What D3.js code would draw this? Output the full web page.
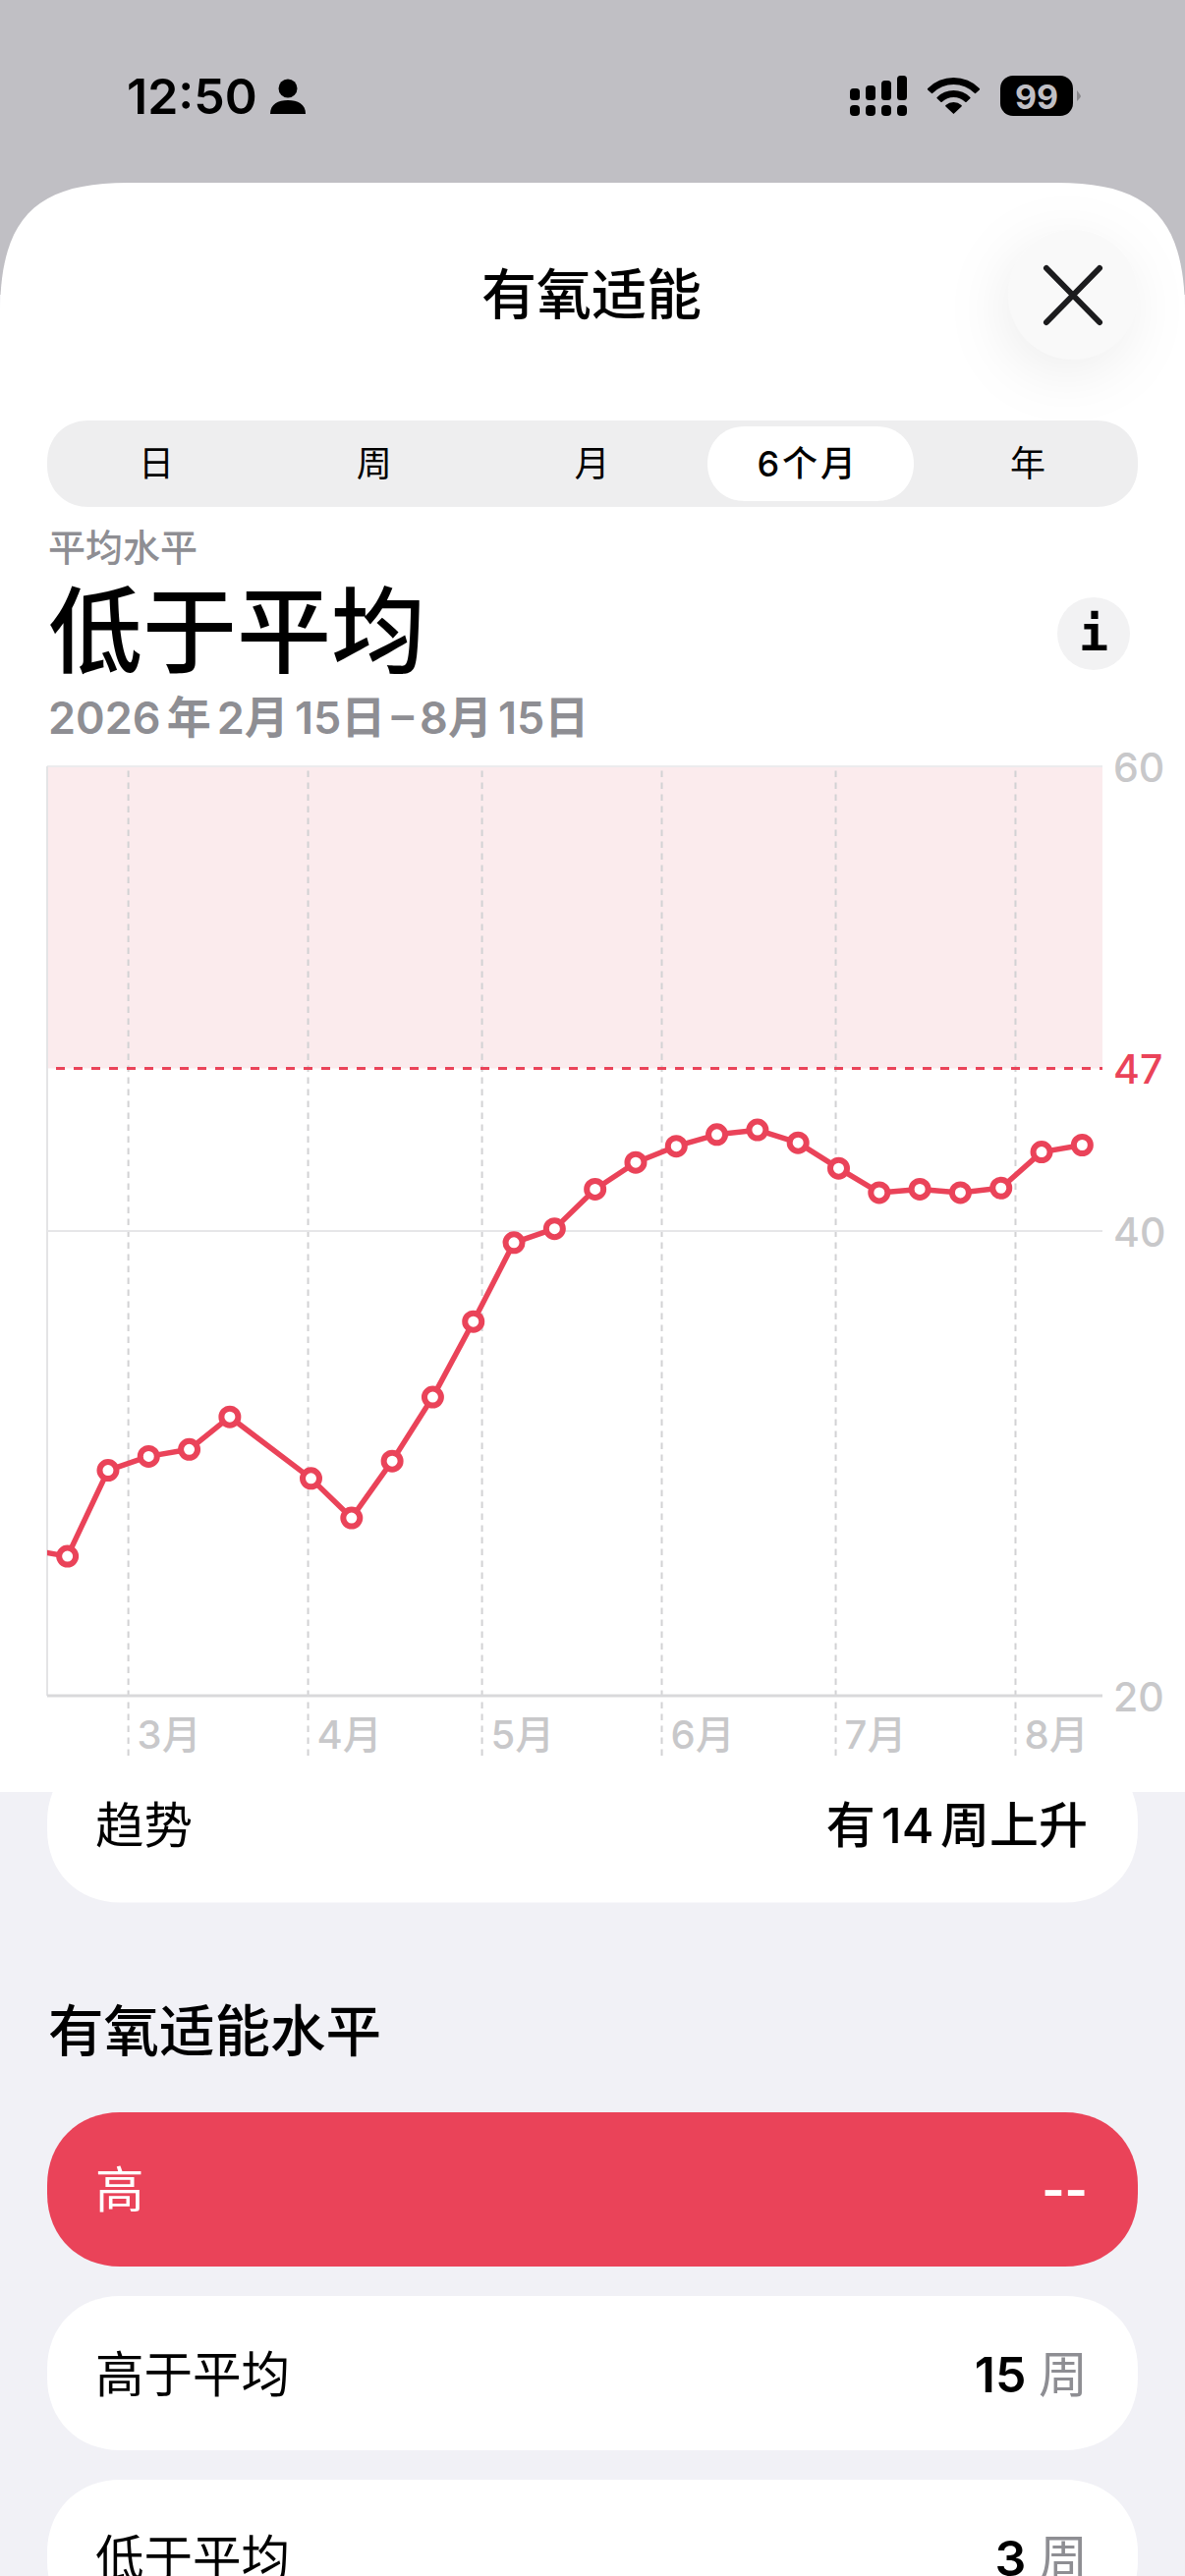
<!DOCTYPE html>
<html>
<head>
<meta charset="utf-8">
<script src="https://cdn.jsdelivr.net/npm/d3@7"></script>
<style>
  html, body { margin: 0; padding: 0; background: #f1f1f6; }
  svg { display: block; }
  text { font-family: Inter, "Noto Sans CJK SC", sans-serif; }
</style>
</head>
<body>
<script>
// chart values
const weekDates = ["2026-02-11","2026-02-18","2026-02-25","2026-03-04","2026-03-11","2026-03-18",
  "2026-04-01","2026-04-08","2026-04-15","2026-04-22","2026-04-29","2026-05-06","2026-05-13",
  "2026-05-20","2026-05-27","2026-06-03","2026-06-10","2026-06-17","2026-06-24","2026-07-01",
  "2026-07-08","2026-07-15","2026-07-22","2026-07-29","2026-08-05","2026-08-12"];
const weekValues = [26.3,26.0,29.7,30.3,30.6,32.0,
  29.35,27.65,30.1,32.85,36.1,39.5,40.1,
  41.8,42.95,43.65,44.15,44.35,43.8,42.7,
  41.65,41.8,41.65,41.85,43.4,43.7];
const yTicks = [20,40,47,60];
const yGridLines = [40,20];
const threshold = 47;
const monthTicks = ["2026-03-01","2026-04-01","2026-05-01","2026-06-01","2026-07-01","2026-08-01"];
const periods = ["日","周","月","6个月","年"];
const selectedPeriod = "6个月";
const levelNames = ["高","高于平均","低于平均"];
const levelWeeks = ["--","15","3"];

const W = 1206, H = 2622;
const red = "#ea4359", gray = "#8e8e93", light = "#c8c8ca";

const parse = d3.utcParse("%Y-%m-%d");
const noon = s => d3.utcHour.offset(parse(s), 12);

const svg = d3.select("body").append("svg")
  .attr("width", W).attr("height", H).attr("viewBox", [0, 0, W, H]);

// rounded box with the soft corners ios uses
function squircle(x, y, w, h, r) {
  const p = d3.path(), k = r * 0.42;
  p.moveTo(x + r, y);
  p.lineTo(x + w - r, y);
  p.bezierCurveTo(x + w - k, y, x + w, y + k, x + w, y + r);
  p.lineTo(x + w, y + h - r);
  p.bezierCurveTo(x + w, y + h - k, x + w - k, y + h, x + w - r, y + h);
  p.lineTo(x + r, y + h);
  p.bezierCurveTo(x + k, y + h, x, y + h - k, x, y + h - r);
  p.lineTo(x, y + r);
  p.bezierCurveTo(x, y + k, x + k, y, x + r, y);
  p.closePath();
  return p.toString();
}

function label(g, s, x, y, size, weight, fill, anchor) {
  return g.append("text").text(s)
    .attr("x", x).attr("y", y)
    .attr("dominant-baseline", "central")
    .attr("font-size", size).attr("font-weight", weight)
    .attr("fill", fill).attr("text-anchor", anchor || "start");
}

// page behind the sheet
svg.append("rect").attr("width", W).attr("height", H).attr("fill", "#f1f1f6");
svg.append("rect").attr("width", W).attr("height", 300).attr("fill", "#c0bfc4");

// status bar
const bar = svg.append("g");
label(bar, "12:50", 129, 98, 50, 600, "#000");
bar.append("circle").attr("cx", 293).attr("cy", 90).attr("r", 9.5).attr("fill", "#000");
bar.append("path").attr("fill", "#000")
  .attr("d", "M275 116 C275 106 283 102 293 102 C303 102 311 106 311 116 Z");

const signalX = [865, 881, 897, 913];
const signalTop = [90, 87, 82, 77];
signalX.forEach((x, i) => {
  bar.append("rect").attr("x", x).attr("y", signalTop[i]).attr("width", 10)
    .attr("height", 102 - signalTop[i]).attr("rx", 3.5).attr("fill", "#000");
  bar.append("rect").attr("x", x).attr("y", 107).attr("width", 10)
    .attr("height", 11).attr("rx", 4).attr("fill", "#000");
});
const wifiArc = d3.arc().startAngle(-0.82).endAngle(0.82).cornerRadius(1);
[[0, 12], [17, 24], [30, 37]].forEach(r => {
  bar.append("path").attr("transform", "translate(970.5,116)").attr("fill", "#000")
    .attr("d", wifiArc({ innerRadius: r[0], outerRadius: r[1] }));
});
bar.append("rect").attr("x", 1018).attr("y", 77).attr("width", 74).attr("height", 41)
  .attr("rx", 13).attr("fill", "#000");
bar.append("path").attr("d", "M1096 92 Q1100 97 1100 98 Q1100 99 1096 103 Z").attr("fill", "#8a898d");
label(bar, "99", 1055, 98, 34, 700, "#c0bfc4", "middle");

// card that slides under the sheet
const trendCard = svg.append("g");
trendCard.append("path").attr("d", squircle(48, 1780, 1110, 156.5, 74)).attr("fill", "#fff");

// the white sheet, only top corners are round
const sheet = d3.path();
sheet.moveTo(0, 1824);
sheet.lineTo(0, 320);
sheet.bezierCurveTo(0, 222, 36, 186, 130, 186);
sheet.lineTo(W - 130, 186);
sheet.bezierCurveTo(W - 36, 186, W, 222, W, 320);
sheet.lineTo(W, 1824);
sheet.closePath();
svg.append("path").attr("d", sheet.toString()).attr("fill", "#fff");

// header
label(svg, "有氧适能", 602, 300, 56, 500, "#000", "middle");
svg.append("circle").attr("cx", 1092).attr("cy", 300).attr("r", 66).attr("fill", "#f9f9f9")
  .style("filter", "drop-shadow(-6px 14px 30px rgba(0,0,0,0.07))");
svg.append("path").attr("d", "M1065 273 L1119 328 M1119 273 L1065 328")
  .attr("stroke", "#1c1c1e").attr("stroke-width", 6).attr("stroke-linecap", "round");

// period switch
svg.append("path").attr("d", squircle(48, 428, 1110, 88, 42)).attr("fill", "#eeeeef");
svg.append("path").attr("d", squircle(720, 434, 210, 76, 38)).attr("fill", "#fff");
const periodX = d3.scalePoint().domain(periods).range([159, 1046]);
periods.forEach(p => {
  const sel = p === selectedPeriod;
  label(svg, p, periodX(p) - (sel ? 2 : 0), 472, 36, sel ? 500 : 400, "#000", "middle")
    .style("letter-spacing", sel ? "3px" : null);
});

// headline
label(svg, "平均水平", 49, 557, 38, 500, gray);
label(svg, "低于平均", 49, 642, 96, 500, "#000");
label(svg, "2026 年 2月 15日 – 8月 15日", 49, 730, 45, 600, gray).style("word-spacing", "-5.2px");
svg.append("circle").attr("cx", 1113).attr("cy", 645).attr("r", 37).attr("fill", "#f2f2f3");
label(svg, "i", 1113, 645, 50, 700, "#000", "middle").style("font-family", "'DejaVu Sans Mono'");

// chart
const margin = { top: 780, right: 84, bottom: 896, left: 48 };
const x = d3.scaleUtc()
  .domain([parse("2026-02-15"), parse("2026-08-16")])
  .range([margin.left, W - margin.right]);
const y = d3.scaleLinear()
  .domain([20, 60])
  .range([H - margin.bottom, margin.top]);

const chart = svg.append("g");

chart.append("defs").append("clipPath").attr("id", "plot").append("rect")
  .attr("x", x.range()[0]).attr("y", y(60))
  .attr("width", x.range()[1] - x.range()[0]).attr("height", y(20) - y(60));

// zone above the threshold
chart.append("rect")
  .attr("x", x.range()[0]).attr("y", y(60))
  .attr("width", x.range()[1] - x.range()[0]).attr("height", y(threshold) - y(60))
  .attr("fill", "#fbebed");

chart.append("line").attr("x1", x.range()[0]).attr("x2", x.range()[1])
  .attr("y1", y(60)).attr("y2", y(60)).attr("stroke", "#ececee").attr("stroke-width", 2);
chart.append("line").attr("x1", x.range()[0]).attr("x2", x.range()[0])
  .attr("y1", y(60)).attr("y2", y(20)).attr("stroke", "#e4e4e6").attr("stroke-width", 2);

// month axis, ticks run up through the plot as dashed guides
const xAxis = chart.append("g")
  .attr("transform", "translate(-0.5," + (y(20) + 61) + ")")
  .call(d3.axisBottom(x)
    .tickValues(monthTicks.map(parse))
    .tickSize(-(y(20) + 61 - y(60)))
    .tickPadding(0)
    .tickFormat(d => (d.getUTCMonth() + 1) + "月"));
xAxis.select(".domain").remove();
xAxis.selectAll(".tick line")
  .attr("stroke", "#d2d2d4").attr("stroke-width", 2).attr("stroke-dasharray", "6.5 5.5");
xAxis.selectAll(".tick text")
  .attr("x", 9).attr("y", -22)
  .attr("dy", 0)
  .attr("dominant-baseline", "central")
  .attr("text-anchor", "start")
  .attr("font-size", 40).attr("font-weight", 500)
  .attr("font-family", "Inter, 'Noto Sans CJK SC', sans-serif")
  .attr("fill", light);

yGridLines.forEach(v => {
  chart.append("line").attr("x1", x.range()[0]).attr("x2", x.range()[1])
    .attr("y1", y(v)).attr("y2", y(v))
    .attr("stroke", v === 20 ? "#d9d9db" : "#e6e6e8").attr("stroke-width", v === 20 ? 3 : 2);
});

// threshold
chart.append("line").attr("x1", x.range()[0] + 9).attr("x2", x.range()[1])
  .attr("y1", y(threshold)).attr("y2", y(threshold))
  .attr("stroke", red).attr("stroke-width", 3).attr("stroke-dasharray", "9 9");

// value axis
const yAxis = chart.append("g")
  .attr("transform", "translate(" + x.range()[1] + ",0)")
  .call(d3.axisRight(y).tickValues(yTicks).tickSize(0).tickPadding(11));
yAxis.select(".domain").remove();
yAxis.selectAll(".tick text")
  .attr("dy", 0)
  .attr("dominant-baseline", "central")
  .attr("font-size", 41).attr("font-weight", 500)
  .attr("font-family", "Inter, sans-serif")
  .attr("fill", d => d === threshold ? red : light);

// line and points
const points = weekDates.map((d, i) => ({ date: noon(d), value: weekValues[i] }));
const line = d3.line().x(d => x(d.date)).y(d => y(d.value));

const marks = chart.append("g").attr("clip-path", "url(#plot)");
marks.append("path").datum(points)
  .attr("d", line)
  .attr("fill", "none").attr("stroke", red).attr("stroke-width", 5.5)
  .attr("stroke-linejoin", "round");
marks.selectAll("circle").data(points.filter(d => x(d.date) > x.range()[0])).enter()
  .append("circle")
  .attr("cx", d => x(d.date)).attr("cy", d => y(d.value)).attr("r", 8.5)
  .attr("fill", "#fff").attr("stroke", red).attr("stroke-width", 6);

// trend row
label(svg, "趋势", 97, 1858, 49.5, 400, "#000");
label(svg, "有 14 周上升", 1107, 1858, 50, 500, "#000", "end").style("word-spacing", "-7px");

// levels
label(svg, "有氧适能水平", 49, 2067, 56.5, 500, "#000");

const rowH = 157, rowGap = 187;
levelNames.forEach((name, i) => {
  const top = 2150 + i * rowGap, cy = top + rowH / 2 + (i === 0 ? 0 : 1);
  const fg = i === 0 ? "#fff" : "#000";
  svg.append("path").attr("d", squircle(48, top, 1110, rowH, 74)).attr("fill", i === 0 ? red : "#fff");
  label(svg, name, 97, cy, 49.5, 400, fg);
  if (i === 0) {
    label(svg, levelWeeks[i], 1107, cy, 50, 700, fg, "end");
  } else {
    const t = label(svg, null, 1107, cy, 50, 600, "#000", "end");
    t.append("tspan").text(levelWeeks[i] + " ");
    t.append("tspan").attr("fill", gray).attr("font-weight", 400).text("周");
  }
});
</script>
</body>
</html>
